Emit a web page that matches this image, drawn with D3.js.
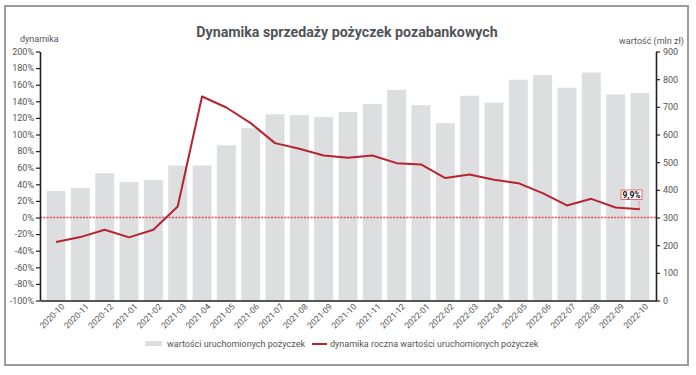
<!DOCTYPE html>
<html>
<head>
<meta charset="utf-8">
<script src="https://cdn.jsdelivr.net/npm/d3@7"></script>
<style>
  body { margin: 0; background: #fff; }
  text { font-family: Roboto, "Noto Sans", sans-serif; }
</style>
</head>
<body>
<div id="canvas"></div>
<script>
/*
 * Dynamika sprzedazy pozyczek - chart
 */

var months = ["2020-10","2020-11","2020-12","2021-01","2021-02","2021-03","2021-04","2021-05","2021-06",
  "2021-07","2021-08","2021-09","2021-10","2021-11","2021-12","2022-01","2022-02","2022-03","2022-04",
  "2022-05","2022-06","2022-07","2022-08","2022-09","2022-10"];

// wartosc uruchomionych pozyczek (mln zl)
var values = [396, 407, 460, 428, 435, 488, 488, 561, 623, 673, 670, 663, 681, 710, 761, 706, 641,
  740, 715, 798, 815, 769, 824, 745, 750];

// dynamika roczna (%)
var growth = [-29.5, -23.6, -14.8, -24, -14.8, 13.3, 145.8, 132.5, 113.7, 89.6, 82.8, 74.7, 72,
  74.7, 65.5, 63.9, 47.5, 51.8, 45.4, 41.4, 29.4, 14.5, 22.5, 12, 9.9];

var leftTicks = [-100, -80, -60, -40, -20, 0, 20, 40, 60, 80, 100, 120, 140, 160, 180, 200];
var rightTicks = [0, 100, 200, 300, 400, 500, 600, 700, 800, 900];

var lastLabel = "9,9%";

var COLORS = {
  bar: "#dcdee0",
  line: "#b8232f",
  zero: "#ec4a4f",
  axis: "#222",
  text: "#555",
  frame: "#9c9c9c"
};

var W = 696, H = 375;
var plot = { left: 40, right: 656, top: 51.5, bottom: 300.5 };

var svg = d3.select("#canvas").append("svg").attr("width", W).attr("height", H);

// frame
svg.append("rect").attr("x", 5).attr("y", 6).attr("width", 683).attr("height", 359)
  .style("fill", "#fff").style("stroke", COLORS.frame).style("stroke-width", 2);

var x = d3.scaleBand().domain(months).range([plot.left, plot.right]).paddingInner(0.22).paddingOuter(0.27);
var yL = d3.scaleLinear().domain([-100, 200]).range([plot.bottom, plot.top]);
var yR = d3.scaleLinear().domain([0, 900]).range([plot.bottom, plot.top]);

// bars
svg.append("g").selectAll("rect").data(values).enter().append("rect")
  .attr("x", function(d, i){ return x(months[i]); })
  .attr("y", function(d){ return yR(d); })
  .attr("width", x.bandwidth())
  .attr("height", function(d){ return yR(0) - yR(d); })
  .style("fill", COLORS.bar);

// 0% line
svg.append("line").attr("x1", plot.left).attr("x2", plot.right).attr("y1", yL(0)).attr("y2", yL(0))
  .style("stroke", COLORS.zero).style("stroke-width", 1.3).style("stroke-dasharray", "2,1.3");

// growth line
var line = d3.line()
  .x(function(d, i){ return x(months[i]) + x.bandwidth() / 2; })
  .y(function(d){ return yL(d); });

svg.append("path").datum(growth).attr("d", line)
  .style("fill", "none").style("stroke", COLORS.line).style("stroke-width", 2).style("stroke-linejoin", "round");

// axes
function styleAxis(g){
  g.select(".domain").style("stroke", COLORS.axis).style("stroke-width", 1.6);
  g.selectAll(".tick line").style("stroke", COLORS.axis).style("stroke-width", 1.2);
  g.selectAll(".tick text").style("fill", COLORS.text).style("font-size", "9px").style("font-family", "Roboto, sans-serif");
}

var axL = svg.append("g").attr("transform", "translate(" + plot.left + ",0)")
  .call(d3.axisLeft(yL).tickValues(leftTicks).tickSize(4).tickSizeOuter(0).tickPadding(2)
    .tickFormat(function(d){ return d + "%"; }));
styleAxis(axL);

var axR = svg.append("g").attr("transform", "translate(" + plot.right + ",0)")
  .call(d3.axisRight(yR).tickValues(rightTicks).tickSize(4).tickSizeOuter(0).tickPadding(3));
styleAxis(axR);

var axB = svg.append("g").attr("transform", "translate(0," + plot.bottom + ")")
  .call(d3.axisBottom(x).tickSize(0).tickSizeOuter(0).tickPadding(6));
styleAxis(axB);
axB.selectAll(".tick text")
  .style("font-size", "8.5px")
  .attr("text-anchor", "end")
  .attr("dx", "0.2em")
  .attr("dy", "0.6em")
  .attr("transform", "rotate(-45)");

// axis titles
svg.append("text").attr("x", 20).attr("y", 42).text("dynamika")
  .style("fill", COLORS.text).style("font-size", "9px");
svg.append("text").attr("x", 684).attr("y", 44).attr("text-anchor", "end").text("wartość (mln zł)")
  .style("fill", COLORS.text).style("font-size", "9px");

// title
svg.append("text").attr("x", 347).attr("y", 37).attr("text-anchor", "middle")
  .text("Dynamika sprzedaży pożyczek pozabankowych")
  .style("fill", "#505458").style("font-size", "14.2px").style("font-weight", "bold");

// last value label
var lastIdx = growth.length - 1;
var lx = x(months[lastIdx]) + x.bandwidth() / 2;
var ly = yL(growth[lastIdx]);
var lbl = svg.append("g");
lbl.append("line").attr("x1", lx - 1).attr("x2", lx - 1).attr("y1", 199).attr("y2", ly)
  .style("stroke", COLORS.zero).style("stroke-width", 0.8).style("stroke-dasharray", "1,1");
lbl.append("rect").attr("x", 621).attr("y", 190).attr("width", 21).attr("height", 9.5)
  .style("fill", "#fff").style("stroke", COLORS.zero).style("stroke-width", 0.8);
lbl.append("text").attr("x", 631.5).attr("y", 198).attr("text-anchor", "middle").text(lastLabel)
  .style("fill", "#111").style("font-size", "8.5px").style("font-weight", "bold");

// legend
var legend = svg.append("g");
legend.append("rect").attr("x", 145).attr("y", 341).attr("width", 17).attr("height", 5).style("fill", COLORS.bar);
legend.append("text").attr("x", 167).attr("y", 347).text("wartości uruchomionych pożyczek")
  .style("fill", COLORS.text).style("font-size", "9px");
legend.append("line").attr("x1", 312).attr("x2", 327).attr("y1", 344).attr("y2", 344)
  .style("stroke", COLORS.line).style("stroke-width", 2);
legend.append("text").attr("x", 330).attr("y", 347).text("dynamika roczna wartości uruchomionych pożyczek")
  .style("fill", COLORS.text).style("font-size", "9px");
</script>
</body>
</html>
